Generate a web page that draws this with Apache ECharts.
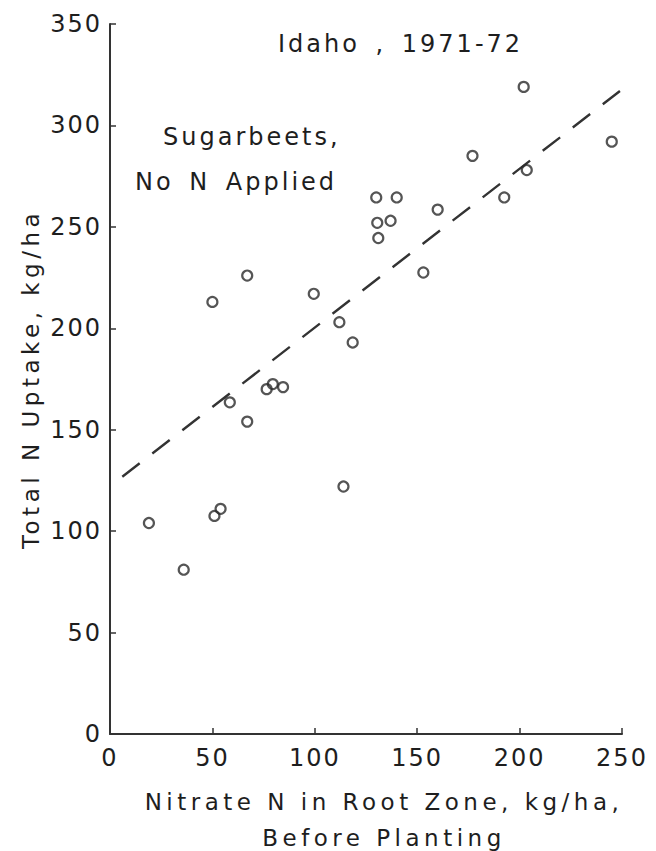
<!DOCTYPE html>
<html>
<head>
<meta charset="utf-8">
<script src="https://cdn.jsdelivr.net/npm/echarts@6/dist/echarts.min.js"></script>
<style>
  html, body { margin: 0; padding: 0; background: #fff; }
  #chart { width: 656px; height: 851px; }
  #chart text { letter-spacing: 2px; }
  #chart text[style*="Verdana"] { letter-spacing: 3px; word-spacing: 5px; }
  #chart text[style*="Arial"] { letter-spacing: 4.5px; }
</style>
</head>
<body>
<div id="chart"></div>
<script>
// ---- data ----
const nitrateN = [19, 36, 50, 51, 54, 58.5, 67, 67, 76.5, 79.5, 84.5, 99.5, 112, 118.5, 114,
                  130, 140, 130.5, 137, 131, 160, 153, 177, 202, 203.5, 192.5, 245];
const nUptake  = [104, 81, 213, 107.5, 111, 163.5, 154, 226, 170, 172.5, 171, 217, 203, 193, 122,
                  264.5, 264.5, 252, 253, 244.5, 258.5, 227.5, 285, 319, 278, 264.5, 292];
const trendX = [6, 249];
const trendY = [126.8, 317];
const xTicks = [0, 50, 100, 150, 200, 250];
const yTicks = [0, 50, 100, 150, 200, 250, 300, 350];
const xTitle = 'Nitrate N in Root Zone, kg/ha,\nBefore Planting';
const yTitle = 'Total N Uptake, kg/ha';
const noteTitle = 'Idaho , 1971-72';
const noteLine1 = 'Sugarbeets,';
const noteLine2 = 'No N Applied';

const ink = '#1e1e1e';
const tickFont = 'DejaVu Sans';
const noteFont = 'DejaVu Sans, Verdana';
const nameFont = 'DejaVu Sans, Arial';

const chart = echarts.init(document.getElementById('chart'), null, { renderer: 'svg' });
chart.setOption({
  animation: false,
  backgroundColor: '#ffffff',
  grid: { left: 110, right: 34, top: 24, bottom: 117, containLabel: false, outerBoundsMode: 'none' },
  xAxis: {
    type: 'value', min: xTicks[0], max: xTicks[xTicks.length - 1], interval: 50,
    axisLine: { show: true, onZero: false, lineStyle: { color: '#333', width: 2 } },
    axisTick: { show: true, inside: true, length: 6, lineStyle: { color: '#333', width: 1.5 } },
    splitLine: { show: false },
    axisLabel: { color: ink, fontSize: 24, fontFamily: tickFont, margin: 12 },
    name: xTitle, nameLocation: 'middle', nameGap: 50,
    nameTextStyle: { color: ink, fontSize: 23, fontFamily: nameFont, lineHeight: 36, padding: [0, 0, 0, 36] }
  },
  yAxis: {
    type: 'value', min: yTicks[0], max: yTicks[yTicks.length - 1], interval: 50,
    axisLine: { show: true, onZero: false, lineStyle: { color: '#333', width: 2 } },
    axisTick: { show: true, inside: true, length: 6, lineStyle: { color: '#333', width: 1.5 } },
    splitLine: { show: false },
    axisLabel: { color: ink, fontSize: 24, fontFamily: tickFont, margin: 8 },
    name: yTitle, nameLocation: 'middle', nameGap: 68, nameRotate: 90,
    nameTextStyle: { color: ink, fontSize: 23, fontFamily: nameFont }
  },
  series: [
    {
      type: 'line',
      data: trendX.map((x, i) => [x, trendY[i]]),
      symbol: 'none',
      lineStyle: { color: '#333', width: 2.4, type: [22, 16] },
      z: 1
    },
    {
      type: 'scatter',
      data: nitrateN.map((x, i) => [x, nUptake[i]]),
      symbol: 'circle',
      symbolSize: 10,
      itemStyle: { color: 'rgba(255,255,255,0)', borderColor: '#2a2a2a', borderWidth: 2.2 },
      z: 2
    }
  ],
  graphic: [
    { type: 'text', x: 278, y: 44, style: { text: noteTitle, fontSize: 24, fontFamily: noteFont, fill: ink, verticalAlign: 'middle' } },
    { type: 'text', x: 163, y: 137, style: { text: noteLine1, fontSize: 24, fontFamily: noteFont, fill: ink, verticalAlign: 'middle' } },
    { type: 'text', x: 135, y: 182, style: { text: noteLine2, fontSize: 24, fontFamily: noteFont, fill: ink, verticalAlign: 'middle' } }
  ]
});
</script>
</body>
</html>
